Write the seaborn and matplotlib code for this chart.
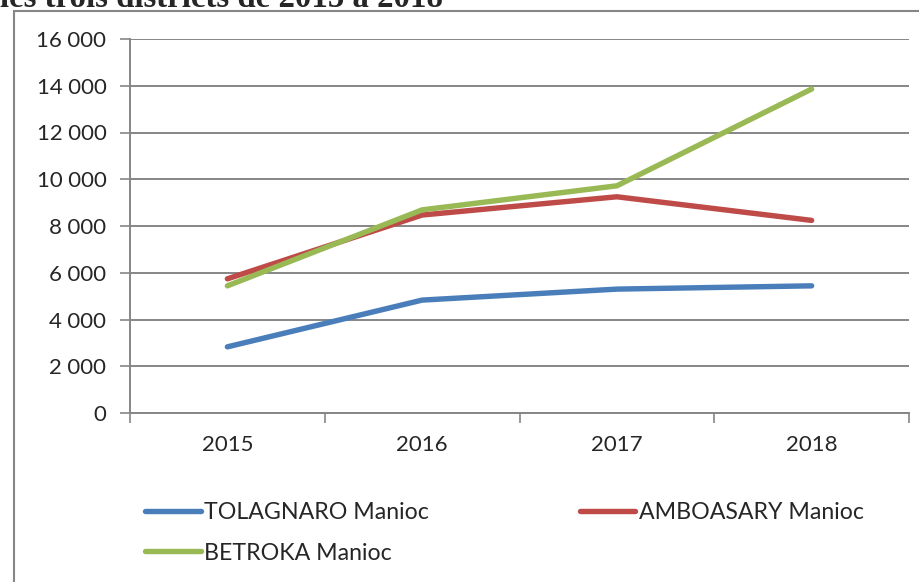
import matplotlib
matplotlib.use("Agg")
import matplotlib.pyplot as plt
import matplotlib.patches as mpatches
import matplotlib.ticker as mticker
import seaborn as sns
import pandas as pd

years = ["2015", "2016", "2017", "2018"]
tolagnaro = [2830, 4830, 5300, 5440]
amboasary = [5740, 8470, 9250, 8240]
betroka = [5440, 8690, 9720, 13860]
series_names = ["TOLAGNARO Manioc", "AMBOASARY Manioc", "BETROKA Manioc"]
colors = ["#4A7EBB", "#BE4B48", "#98B954"]
title = "les trois districts de 2015 à 2018"

rows = []
for name, vals in zip(series_names, [tolagnaro, amboasary, betroka]):
    for y, v in zip(years, vals):
        rows.append({"year": y, "value": v, "series": name})
df = pd.DataFrame(rows)

sns.set_style("white")
plt.rcParams["font.family"] = ["Lato", "DejaVu Sans"]

W, H = 919, 582
fig = plt.figure(figsize=(W / 100, H / 100), dpi=100)
ax = fig.add_axes([130 / W, 1 - 413 / H, (909 - 130) / W, (413 - 39) / H])

sns.lineplot(data=df, x="year", y="value", hue="series", palette=colors,
             hue_order=series_names, linewidth=3.9, ax=ax, legend=False,
             solid_capstyle="round")

ax.set_xlim(-0.5, len(years) - 0.5)
ax.set_ylim(0, 16000)
ax.yaxis.set_major_locator(mticker.MultipleLocator(2000))
ax.yaxis.set_major_formatter(mticker.FuncFormatter(
    lambda v, p: f"{int(v):,}".replace(",", "\u2009\u2009")))
ax.set_xticks([i for i in range(len(years))])
ax.set_xticklabels(years)
ax.xaxis.set_minor_locator(mticker.FixedLocator([i - 0.5 for i in range(len(years) + 1)]))
ax.tick_params(axis="x", which="major", length=0, pad=16, labelsize=16)
ax.tick_params(axis="x", which="minor", length=7, width=1.2, color="#868686", direction="out", bottom=True)
ax.tick_params(axis="y", length=7, width=1.2, color="#868686", direction="out", left=True, pad=10, labelsize=16)
ax.set_xlabel("")
ax.set_ylabel("")
ax.grid(axis="y", color="#868686", linewidth=1.4)
ax.set_axisbelow(True)
for s in ["top", "right"]:
    ax.spines[s].set_visible(False)
for s in ["left", "bottom"]:
    ax.spines[s].set_color("#868686")
    ax.spines[s].set_linewidth(1.4)

# outer chart border (cut off at right/bottom)
fig.patches.append(mpatches.Rectangle((14 / W, -0.1), 1.2, 1.1 - 11 / H,
                                      transform=fig.transFigure, fill=False,
                                      edgecolor="#868686", linewidth=1.5))

# title (partly cut off at the top, as in the source)
fig.text(0.0, 1 - 7 / H, title, ha="left", va="baseline",
         fontsize=23.7, fontweight="bold", family=["Liberation Serif", "DejaVu Serif"])

handles = [plt.Line2D([], [], color=c, linewidth=3.9, solid_capstyle="round") for c in colors]
order = [0, 2, 1]
fig.legend([handles[i] for i in order], [series_names[i] for i in order],
           ncol=2, loc="upper left", bbox_to_anchor=(124 / W, 1 - 481 / H),
           frameon=False, fontsize=16.7, handlelength=2.4, handletextpad=0.15,
           columnspacing=6.5, labelspacing=0.85)

fig.savefig("out.png", dpi=100)
